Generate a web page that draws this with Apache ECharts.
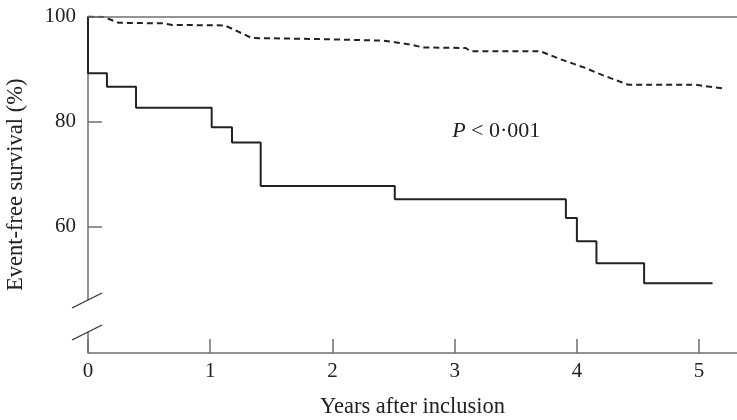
<!DOCTYPE html>
<html><head><meta charset="utf-8">
<script src="https://cdn.jsdelivr.net/npm/echarts@6/dist/echarts.min.js"></script>
<style>html,body{margin:0;padding:0;background:#fff}#c{width:737px;height:420px}</style>
</head><body><div id="c"></div>
<script>
// Data
const solidTimes = [0, 0, 0.155, 0.393, 1.012, 1.178, 1.413, 2.51, 3.91, 4.0, 4.16, 4.55, 5.11];
const solidSurv  = [100, 89.2, 86.6, 82.6, 78.9, 76.0, 67.7, 65.2, 61.6, 57.2, 53.0, 49.2, 49.2];
const dashTimes = [0, 0.13, 0.25, 0.61, 0.69, 1.12, 1.34, 1.90, 2.41, 2.51, 2.65, 2.74, 3.09, 3.13, 3.70, 3.86, 4.07, 4.17, 4.27, 4.42, 4.97, 5.19];
const dashSurv  = [100, 99.9, 98.8, 98.7, 98.4, 98.3, 95.9, 95.7, 95.4, 95.1, 94.6, 94.1, 94.0, 93.4, 93.4, 91.9, 90.2, 89.2, 88.3, 87.0, 87.0, 86.3];
const xTicks = [0, 1, 2, 3, 4, 5];
const yTicks = [60, 80, 100];
const breakLow = 39.9, breakHigh = 46.0;
const annotation = {x: 3.34, y: 78.2};

(function () {
const FONT = "'Liberation Serif','DejaVu Serif',serif";
const AX = '#6f6f6f';
const chart = echarts.init(document.getElementById('c'), null, {renderer: 'canvas'});
const yMin = 35.9, yMax = 100, xMax = 5.31;

chart.setOption({
  animation: false,
  grid: {left: 88, right: 0, top: 16.5, bottom: 67, containLabel: false, outerBoundsMode: 'none'},
  xAxis: {
    type: 'value', min: 0, max: xMax,
    name: 'Years after inclusion', nameLocation: 'middle', nameGap: 43,
    nameTextStyle: {fontFamily: FONT, fontSize: 22.5, color: '#222'},
    axisLine: {lineStyle: {color: AX, width: 1.5}},
    axisTick: {inside: true, length: 14, customValues: xTicks, lineStyle: {color: AX, width: 1.5}},
    axisLabel: {customValues: xTicks, fontFamily: FONT, fontSize: 21, color: '#222', margin: 8},
    splitLine: {show: false}
  },
  yAxis: {
    type: 'value', min: yMin, max: yMax,
    name: 'Event-free survival (%)', nameLocation: 'middle', nameGap: 60, nameRotate: 90,
    nameTextStyle: {fontFamily: FONT, fontSize: 22.5, color: '#222'},
    axisLine: {show: false},
    axisTick: {inside: true, length: 14, customValues: yTicks, lineStyle: {color: AX, width: 1.5}},
    axisLabel: {customValues: yTicks, fontFamily: FONT, fontSize: 21, color: '#222', margin: 12},
    splitLine: {show: false}
  },
  series: [
    {
      type: 'line', step: 'end', symbol: 'none',
      data: solidTimes.map((t, i) => [t, solidSurv[i]]),
      lineStyle: {color: '#222', width: 2},
      markLine: {
        silent: true, symbol: 'none', label: {show: false},
        lineStyle: {color: AX, width: 1.5, type: 'solid'},
        data: [{yAxis: 100}]
      }
    },
    {
      type: 'line', symbol: 'none',
      data: dashTimes.map((t, i) => [t, dashSurv[i]]),
      lineStyle: {color: '#222', width: 2, type: [6, 4]}
    }
  ]
});

function px(x, y) { return chart.convertToPixel({gridIndex: 0}, [x, y]); }
const pTop = px(0, yMax), pHi = px(0, breakHigh), pLo = px(0, breakLow), pBot = px(0, yMin);
const pAnn = px(annotation.x, annotation.y);
const ax = pTop[0];
chart.setOption({
  graphic: [
    {type: 'line', shape: {x1: ax, y1: pTop[1], x2: ax, y2: pHi[1]}, style: {stroke: AX, lineWidth: 1.5}},
    {type: 'line', shape: {x1: ax, y1: pLo[1], x2: ax, y2: pBot[1]}, style: {stroke: AX, lineWidth: 1.5}},
    {type: 'line', shape: {x1: ax - 16, y1: pHi[1] + 8, x2: ax + 14, y2: pHi[1] - 7}, style: {stroke: '#333', lineWidth: 1.3}},
    {type: 'line', shape: {x1: ax - 16, y1: pLo[1] + 8, x2: ax + 14, y2: pLo[1] - 7}, style: {stroke: '#333', lineWidth: 1.3}},
    {type: 'text', x: pAnn[0], y: pAnn[1], style: {
      text: '{i|P} < 0·001', align: 'center', verticalAlign: 'middle',
      font: '22px ' + FONT, fill: '#222',
      rich: {i: {fontStyle: 'italic', fontFamily: FONT, fontSize: 22, fill: '#222'}}
    }}
  ]
});
})();
</script></body></html>
